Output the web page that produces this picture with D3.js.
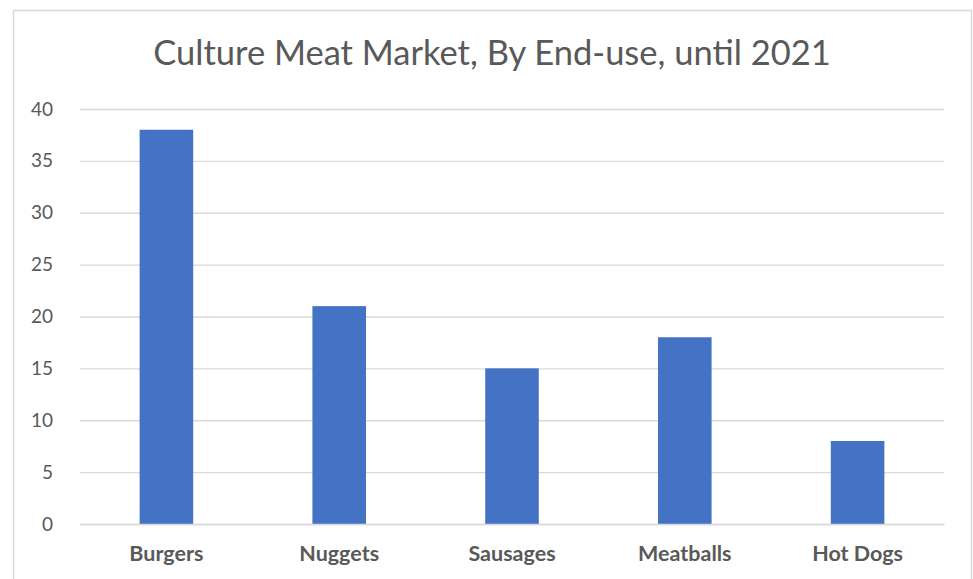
<!DOCTYPE html>
<html><head><meta charset="utf-8">
<script src="https://cdn.jsdelivr.net/npm/d3@7"></script>
<style>body{margin:0;background:#fff;} svg{display:block;}</style>
</head><body>
<svg id="c" width="973" height="579"></svg>
<script>
const categories = ["Burgers","Nuggets","Sausages","Meatballs","Hot Dogs"];
const values = [38, 21, 15, 18, 8];
const yTicks = [0,5,10,15,20,25,30,35,40];
const title = "Culture Meat Market, By End-use, until 2021";

const svg = d3.select("#c");
const font = "Lato, 'Open Sans', sans-serif";
svg.append("rect").attr("x",13.5).attr("y",10.5).attr("width",958).attr("height",580)
  .attr("fill","#fff").attr("stroke","#d9d9d9").attr("stroke-width",1.5);

const x = d3.scaleBand().domain(categories).range([80,944]).paddingInner(0.69).paddingOuter(0.345);
const y = d3.scaleLinear().domain([0,40]).range([524,109]);

svg.append("text").attr("x",492).attr("y",65).attr("text-anchor","middle")
  .attr("font-family",font).attr("font-size",34.5).attr("fill","#595959").text(title);

const gy = svg.append("g").attr("transform","translate(80,0)")
  .call(d3.axisLeft(y).tickValues(yTicks).tickSize(-864).tickPadding(27));
gy.select(".domain").remove();
gy.selectAll(".tick line").attr("stroke","#d9d9d9").attr("stroke-width",1.3);
gy.selectAll(".tick text").attr("font-family",font).attr("font-size",19).attr("fill","#595959");

svg.selectAll(".bar").data(values).join("rect").attr("class","bar")
  .attr("x",(d,i)=>x(categories[i])).attr("width",x.bandwidth())
  .attr("y",d=>y(d)).attr("height",d=>y(0)-y(d)).attr("fill","#4472c4");

const gx = svg.append("g").attr("transform","translate(0,524)")
  .call(d3.axisBottom(x).tickSize(0).tickPadding(22));
gx.select(".domain").attr("stroke","#d9d9d9").attr("stroke-width",1.3);
gx.selectAll(".tick text").attr("font-family",font).attr("font-size",21.5).attr("font-weight","bold").attr("fill","#595959");
</script>
</body></html>
